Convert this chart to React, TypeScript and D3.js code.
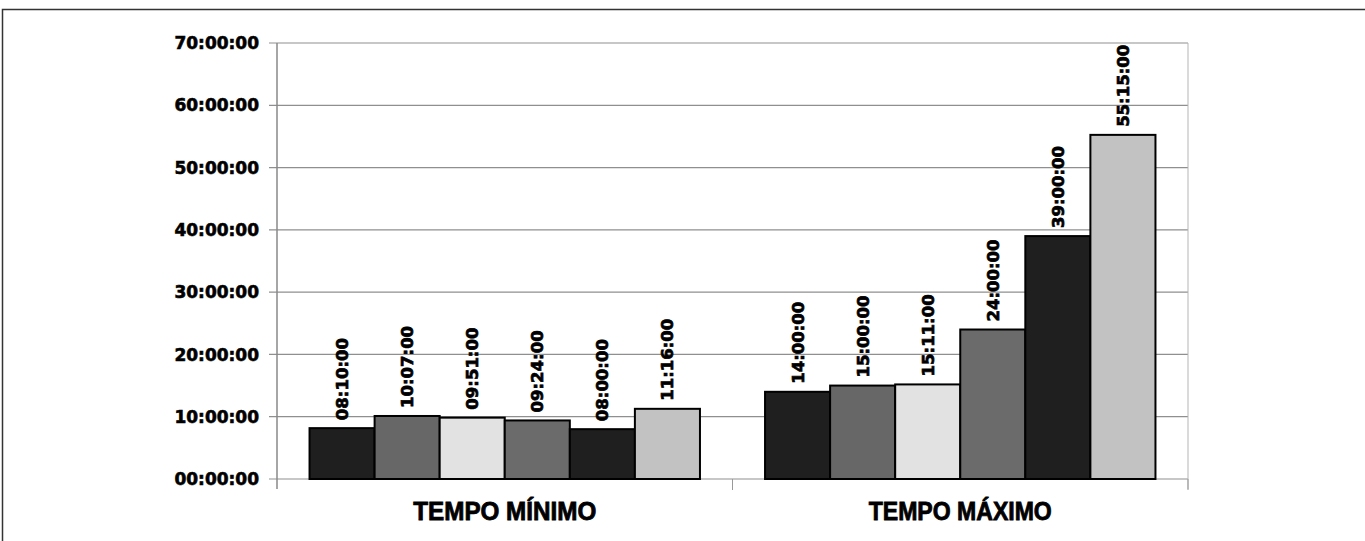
import React, { useEffect, useRef } from 'react';
import * as d3 from 'd3';

const categories = ['TEMPO MÍNIMO', 'TEMPO MÁXIMO'];
// hours
const minLabels = ['08:10:00', '10:07:00', '09:51:00', '09:24:00', '08:00:00', '11:16:00'];
const maxLabels = ['14:00:00', '15:00:00', '15:11:00', '24:00:00', '39:00:00', '55:15:00'];
const yTicks = [0, 10, 20, 30, 40, 50, 60, 70];
const yTickLabels = ['00:00:00', '10:00:00', '20:00:00', '30:00:00', '40:00:00', '50:00:00', '60:00:00', '70:00:00'];
const barColors = ['#1f1f1f', '#676767', '#e2e2e2', '#6b6b6b', '#1f1f1f', '#c2c2c2'];

const toHours = (s: string) => {
  const [h, m, sec] = s.split(':').map(Number);
  return h + m / 60 + sec / 3600;
};

const groups = [minLabels, maxLabels];

export default function App() {
  const svgRef = useRef<SVGSVGElement>(null);

  useEffect(() => {
    if (!svgRef.current) return;
    const svg = d3.select(svgRef.current);
    svg.selectAll('*').remove();

    const W = 1365;
    const H = 541;
    const left = 277;
    const right = 1188;
    const top = 43;
    const bottom = 479;
    const font = "'DejaVu Sans', sans-serif";

    // outer frame
    svg.append('rect')
      .attr('x', 2.5).attr('y', 9.5)
      .attr('width', W + 10).attr('height', H + 10)
      .attr('fill', 'white').attr('stroke', '#333').attr('stroke-width', 1.5);

    const x0 = d3.scaleBand().domain(categories).range([left, right]).padding(0);
    const x1 = d3.scaleBand<number>()
      .domain(d3.range(6))
      .range([0, x0.bandwidth()])
      .paddingInner(0)
      .paddingOuter(0.5);
    const y = d3.scaleLinear().domain([0, 70]).range([bottom, top]);

    // gridlines
    svg.append('g')
      .selectAll('line')
      .data(yTicks)
      .enter()
      .append('line')
      .attr('x1', left - 8).attr('x2', right)
      .attr('y1', d => y(d)).attr('y2', d => y(d))
      .attr('stroke', '#8f8f8f').attr('stroke-width', 1.2);

    // plot right border
    svg.append('line')
      .attr('x1', right).attr('x2', right)
      .attr('y1', top).attr('y2', bottom + 10)
      .attr('stroke', '#b5b5b5');

    // y axis line
    svg.append('line')
      .attr('x1', left).attr('x2', left)
      .attr('y1', top).attr('y2', bottom + 10)
      .attr('stroke', '#888').attr('stroke-width', 1.5);

    // x axis category separators
    svg.append('g')
      .selectAll('line')
      .data(categories)
      .enter()
      .append('line')
      .attr('x1', d => (x0(d) || 0) + x0.bandwidth())
      .attr('x2', d => (x0(d) || 0) + x0.bandwidth())
      .attr('y1', bottom).attr('y2', bottom + 11)
      .attr('stroke', '#999');

    // y tick labels
    svg.append('g')
      .selectAll('text')
      .data(yTicks)
      .enter()
      .append('text')
      .attr('x', left - 18)
      .attr('y', d => y(d))
      .attr('dy', '0.36em')
      .attr('text-anchor', 'end')
      .style('font-family', font)
      .style('font-weight', 'bold')
      .style('font-size', '17px')
      .attr('fill', '#000')
      .attr('stroke', '#000')
      .attr('stroke-width', 0.6)
      .text((_, i) => yTickLabels[i]);

    // bars
    categories.forEach((cat, gi) => {
      const g = svg.append('g').attr('transform', `translate(${x0(cat)},0)`);
      const labels = groups[gi];

      g.selectAll('rect')
        .data(labels)
        .enter()
        .append('rect')
        .attr('x', (_, i) => x1(i) || 0)
        .attr('y', d => y(toHours(d)))
        .attr('width', x1.bandwidth())
        .attr('height', d => bottom - y(toHours(d)))
        .attr('fill', (_, i) => barColors[i])
        .attr('stroke', '#000')
        .attr('stroke-width', 2);

      g.selectAll('text.val')
        .data(labels)
        .enter()
        .append('text')
        .attr('class', 'val')
        .attr('transform', (d, i) =>
          `translate(${(x1(i) || 0) + x1.bandwidth() / 2},${y(toHours(d)) - 8}) rotate(-90)`)
        .attr('dy', '0.36em')
        .attr('text-anchor', 'start')
        .style('font-family', font)
        .style('font-weight', 'bold')
        .style('font-size', '16.5px')
        .attr('fill', '#000')
        .attr('stroke', '#000')
        .attr('stroke-width', 0.7)
        .text(d => d);
    });

    // category labels
    svg.append('g')
      .selectAll('text')
      .data(categories)
      .enter()
      .append('text')
      .attr('x', d => (x0(d) || 0) + x0.bandwidth() / 2 - 183 / 2)
      .attr('y', 520)
      .attr('textLength', 183)
      .attr('lengthAdjust', 'spacingAndGlyphs')
      .style('font-family', "'Liberation Sans', Arial, sans-serif")
      .style('font-weight', 'bold')
      .style('font-size', '25px')
      .attr('fill', '#000')
      .attr('stroke', '#000')
      .attr('stroke-width', 0.8)
      .text(d => d);
  }, []);

  return (
    <div style={{ position: 'absolute', left: 0, top: 0 }}>
      <svg ref={svgRef} width={1365} height={541} style={{ display: 'block', background: 'white' }} />
    </div>
  );
}
